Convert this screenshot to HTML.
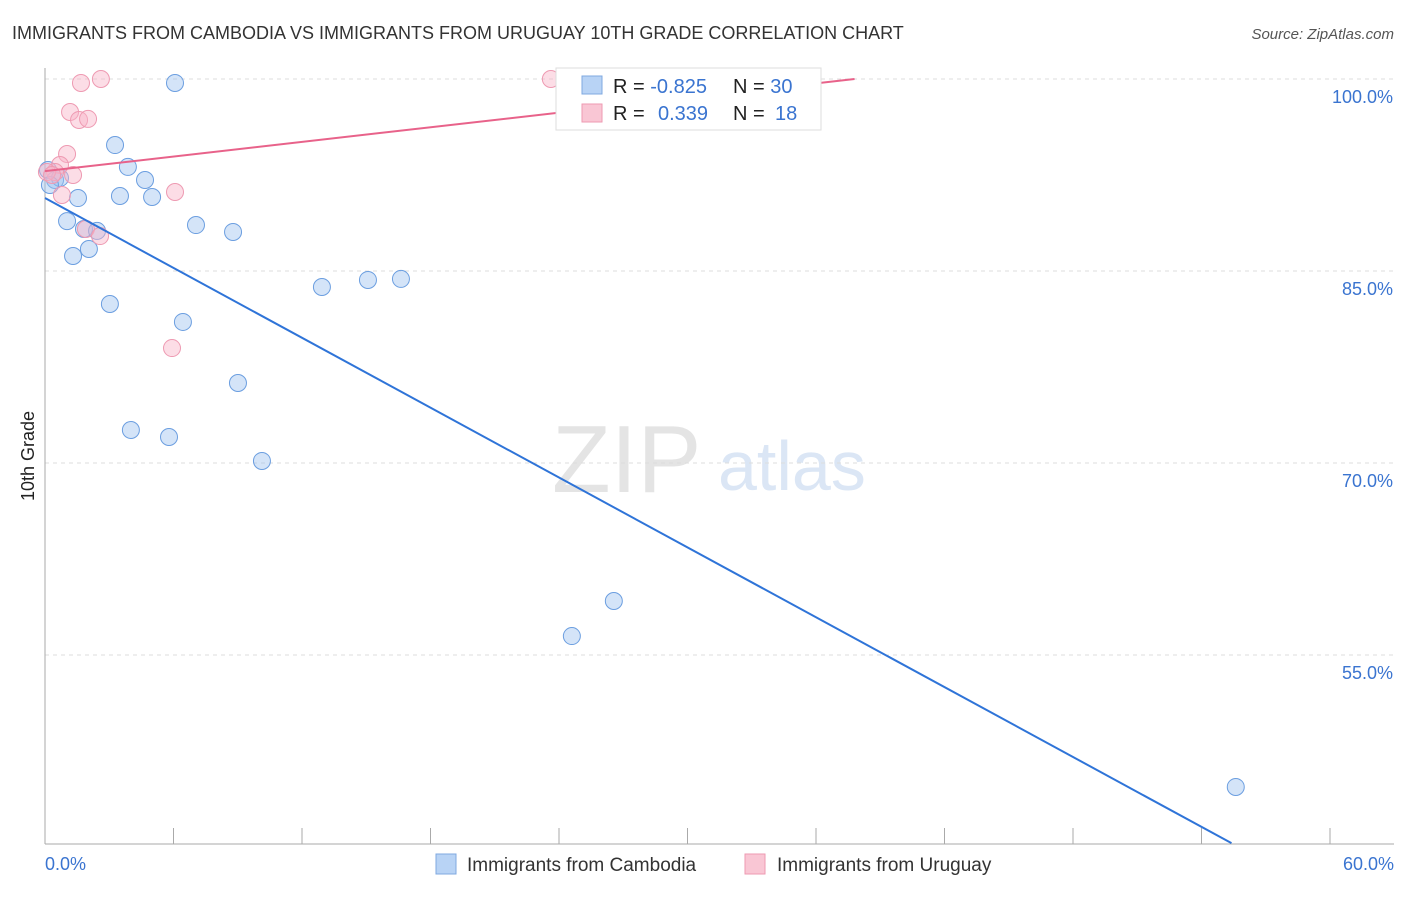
<!DOCTYPE html>
<html><head><meta charset="utf-8"><style>
body{margin:0;background:#fff;font-family:"Liberation Sans",sans-serif}
svg text{font-family:"Liberation Sans",sans-serif}
</style></head><body>
<svg id="c" width="1406" height="892" xmlns="http://www.w3.org/2000/svg">
<text x="12" y="39" font-size="18" fill="#333">IMMIGRANTS FROM CAMBODIA VS IMMIGRANTS FROM URUGUAY 10TH GRADE CORRELATION CHART</text>
<text x="1394" y="39" font-size="15" fill="#555" font-style="italic" text-anchor="end">Source: ZipAtlas.com</text>
<text x="34" y="456" font-size="18" fill="#222" transform="rotate(-90 34 456)" text-anchor="middle">10th Grade</text>
<text x="552" y="492" font-size="96" fill="#e4e4e4" font-family="Liberation Serif">ZIP</text>
<text x="718" y="490" font-size="70" fill="#dbe6f5">atlas</text>
<g id="grid"></g><g id="pts"></g><g id="lines"></g>
<g>
<rect x="556" y="68" width="265" height="62" fill="#fff" stroke="#ddd"/>
<rect x="582" y="76" width="20" height="18" fill="#b8d3f5" stroke="#7fa8e0"/>
<rect x="582" y="104" width="20" height="18" fill="#f9c6d4" stroke="#ee9ab2"/>
<text x="613" y="93" font-size="20" fill="#222">R = <tspan fill="#3a74d0">-0.825</tspan></text>
<text x="733" y="93" font-size="20" fill="#222">N = <tspan fill="#3a74d0">30</tspan></text>
<text x="613" y="120" font-size="20" fill="#222">R = <tspan fill="#3a74d0" x="658">0.339</tspan></text>
<text x="733" y="120" font-size="20" fill="#222">N = <tspan fill="#3a74d0" x="775">18</tspan></text>
</g>
<g>
<rect x="436" y="854" width="20" height="20" fill="#b8d3f5" stroke="#7fa8e0"/>
<text x="467" y="871" font-size="19" fill="#333">Immigrants from Cambodia</text>
<rect x="745" y="854" width="20" height="20" fill="#f9c6d4" stroke="#ee9ab2"/>
<text x="777" y="871" font-size="19" fill="#333">Immigrants from Uruguay</text>
</g>
</svg>
<script>
const yTicks=[100,85,70,55];
const yTickLabels=["100.0%","85.0%","70.0%","55.0%"];
const xTicks=[0,6,12,18,24,30,36,42,48,54,60];
const xEndLabels=["0.0%","60.0%"];
const cambodiaX=[6.07,3.27,3.87,4.67,3.5,5.0,1.54,1.03,7.05,8.78,1.82,2.43,1.31,2.05,3.03,6.44,12.93,15.08,16.62,9.01,4.01,5.79,10.13,26.56,24.6,55.6,0.14,0.47,0.7,0.23];
const cambodiaY=[99.69,94.84,93.13,92.11,90.86,90.78,90.7,88.9,88.59,88.05,88.28,88.13,86.17,86.72,82.42,81.02,83.75,84.3,84.38,76.25,72.58,72.03,70.16,59.22,56.48,44.69,92.89,92.11,92.27,91.72];
const uruguayX=[1.68,2.61,23.62,35.34,1.17,1.59,2.01,1.03,0.7,0.47,1.31,0.79,6.07,5.93,1.91,2.57,0.09,0.33];
const uruguayY=[99.69,100,100,100,97.42,96.8,96.88,94.14,93.28,92.73,92.5,90.94,91.17,78.98,88.28,87.73,92.73,92.5];
const cambodiaTrend=[[0,90.7],[55.4,40.3]];
const uruguayTrend=[[0,92.8],[37.8,100]];
const NS="http://www.w3.org/2000/svg";
const X=v=>45+v*(1285/60);
const Y=v=>79+(100-v)*12.8;
function mk(t,a,p){const e=document.createElementNS(NS,t);for(const k in a)e.setAttribute(k,a[k]);p.appendChild(e);return e;}
const g=document.getElementById('grid');
yTicks.forEach((t,i)=>{
 const l=mk('line',{x1:45,x2:1394,y1:Y(t),y2:Y(t),stroke:'#ddd','stroke-dasharray':'4,4'},g);
 
 
 const tx=mk('text',{x:1393,y:Y(t)+24,'font-size':18,fill:'#3a74d0','text-anchor':'end'},g);
 tx.textContent=yTickLabels[i];
 
 
});
const ax=mk('line',{x1:45,x2:45,y1:68,y2:844,stroke:'#aaa'},g);


const bx=mk('line',{x1:45,x2:1394,y1:844,y2:844,stroke:'#aaa'},g);


xTicks.forEach(t=>{
 const l=mk('line',{x1:X(t),x2:X(t),y1:828,y2:844,stroke:'#aaa'},g);
 
 
});
[[0,'start',45],[60,'end',1394]].forEach((d,i)=>{
 const tx=mk('text',{x:d[2],y:870,'font-size':18,fill:'#3a74d0','text-anchor':d[1]},g);
 tx.textContent=xEndLabels[i];
 
 
});
const p=document.getElementById('pts');
cambodiaX.forEach((v,i)=>{
 const c=mk('circle',{cx:X(v),cy:Y(cambodiaY[i]),r:8.5,fill:'rgba(160,195,240,0.45)',stroke:'#6b9ee0','stroke-width':1},p);
 
 
});
uruguayX.forEach((v,i)=>{
 const c=mk('circle',{cx:X(v),cy:Y(uruguayY[i]),r:8.5,fill:'rgba(248,180,200,0.45)',stroke:'#ee9ab2','stroke-width':1},p);
 
 
});
const L=document.getElementById('lines');
const t1=mk('line',{x1:X(cambodiaTrend[0][0]),y1:Y(cambodiaTrend[0][1]),x2:X(cambodiaTrend[1][0]),y2:Y(cambodiaTrend[1][1]),stroke:'#2f74d8','stroke-width':2},L);


const t2=mk('line',{x1:X(uruguayTrend[0][0]),y1:Y(uruguayTrend[0][1]),x2:X(uruguayTrend[1][0]),y2:Y(uruguayTrend[1][1]),stroke:'#e8628a','stroke-width':2},L);


</script>
</body></html>
